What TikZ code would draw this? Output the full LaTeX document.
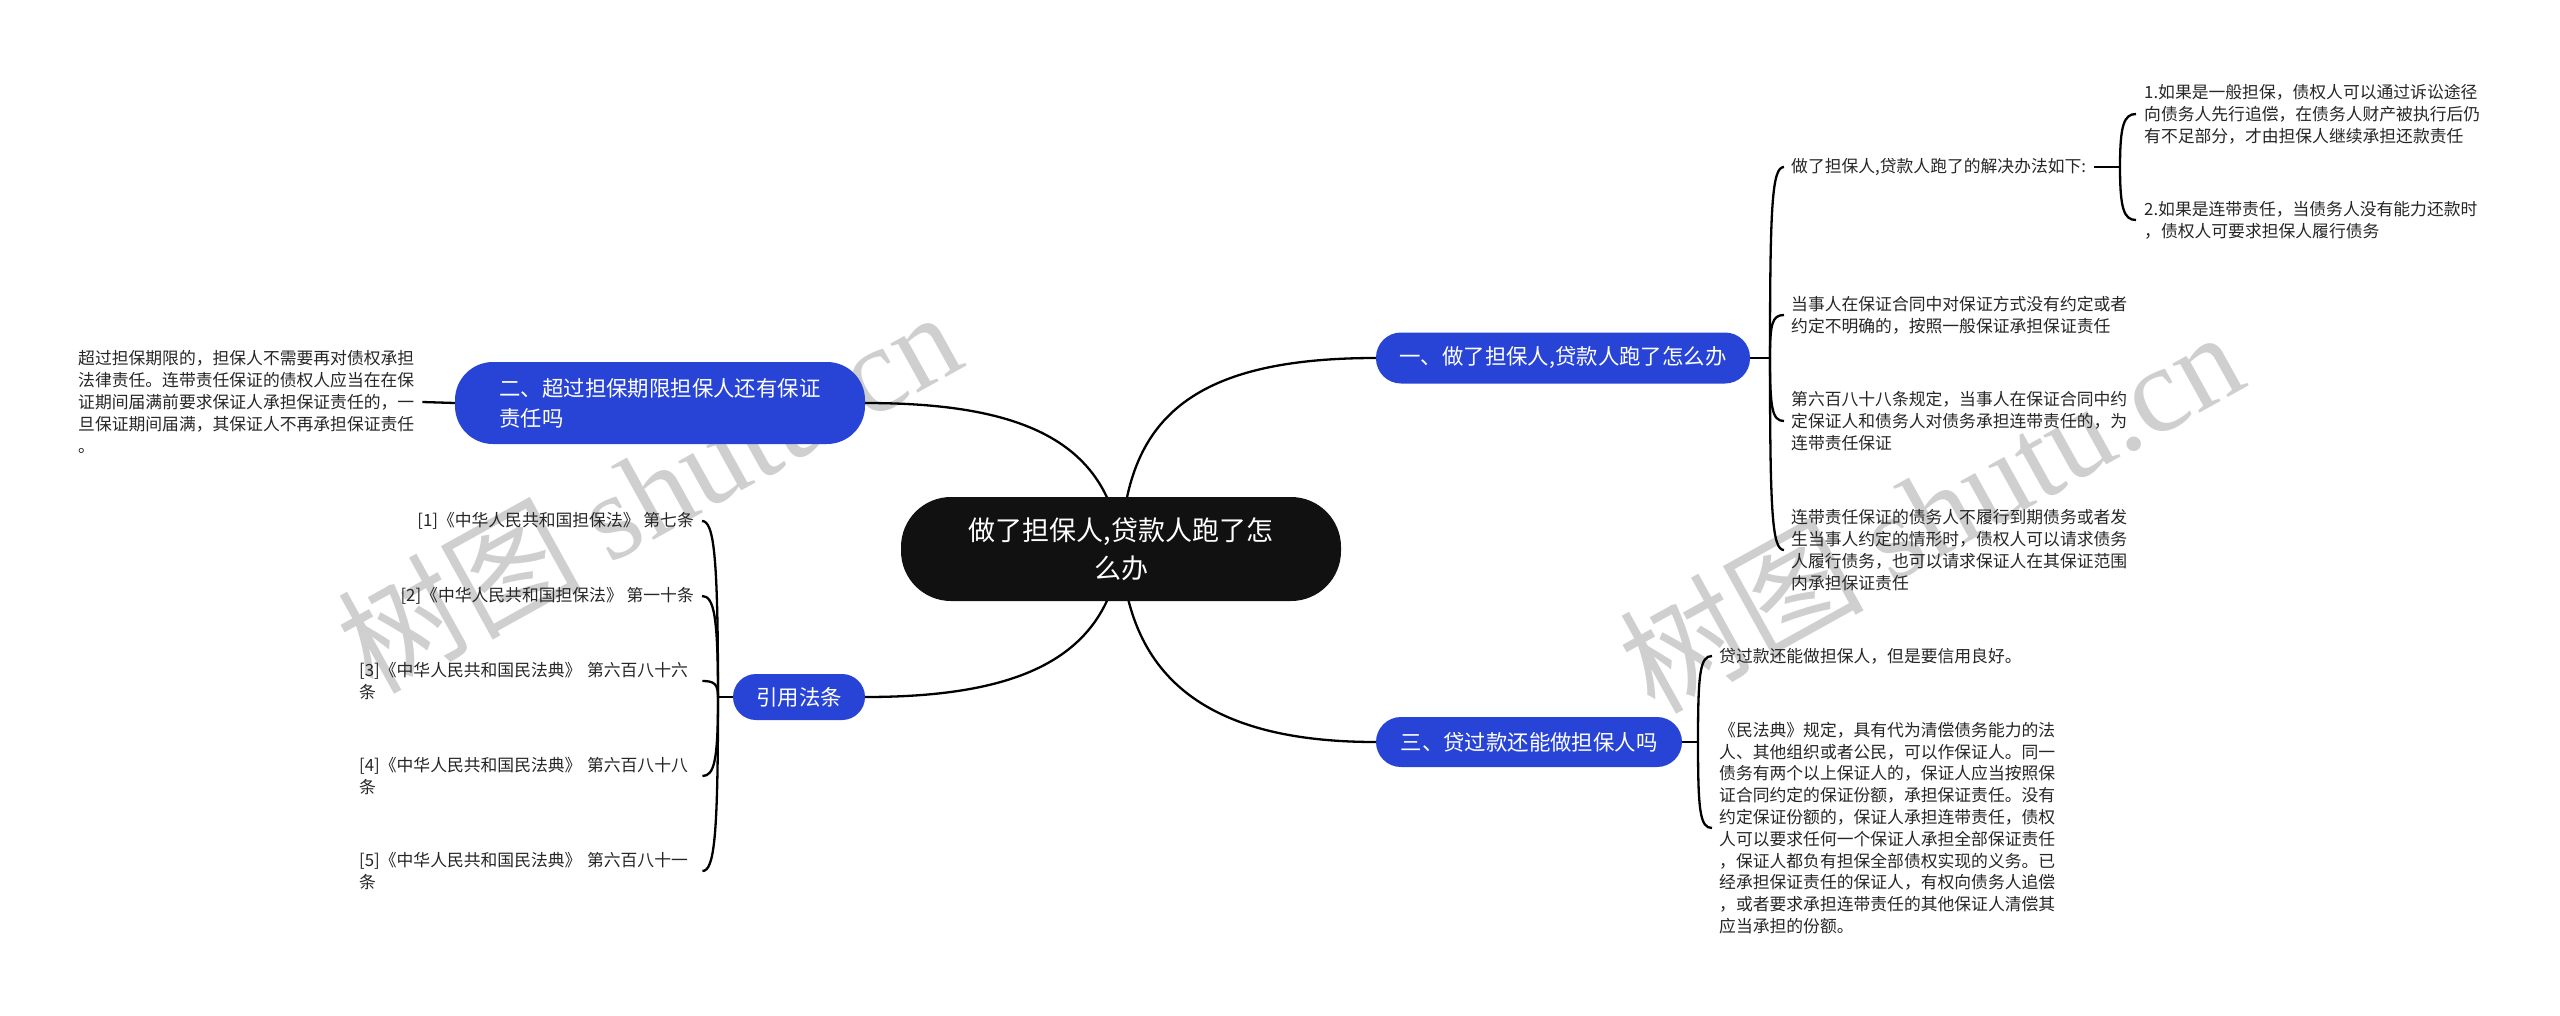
\documentclass[tikz,border=0pt]{standalone}
\usepackage{fontspec}
\setmainfont{Noto Sans CJK SC}
\newfontfamily\wmserif{Liberation Serif}
\definecolor{nodeblue}{RGB}{40,68,214}
\definecolor{rootblack}{RGB}{17,17,17}
\pgfdeclarelayer{wmlayer}
\pgfdeclarelayer{connlayer}
\pgfsetlayers{wmlayer,connlayer,main}
\begin{document}
\begin{tikzpicture}[x=1pt,y=-1pt,
  connline/.style={line width=2.3pt, black},
  rootbox/.style={fill=rootblack, text=white, rounded corners=50pt, minimum width=440pt, minimum height=104pt, inner sep=0pt, align=center, font=\fontsize{27}{38}\selectfont},
  branchbox/.style={fill=nodeblue, text=white, inner sep=0pt, font=\fontsize{21.4}{30}\selectfont},
  leafbox/.style={inner sep=0pt, align=left, text=black!85, font=\fontsize{16.8}{21.8}\selectfont},
  wmtext/.style={text=black!19, rotate=29, inner sep=0pt}
]
\useasboundingbox (0,0) rectangle (2560,1015);

% central and main branches
\node[rootbox] (c) at (1121,549) {做了担保人,贷款人跑了怎\\么办};
\node[branchbox, minimum width=374pt, minimum height=51pt, rounded corners=25pt] (b1) at (1563,358) {一、做了担保人,贷款人跑了怎么办};
\node[branchbox, minimum width=410pt, minimum height=82pt, rounded corners=38pt, align=left] (b2) at (660,403) {二、超过担保期限担保人还有保证\\责任吗};
\node[branchbox, minimum width=306pt, minimum height=50pt, rounded corners=25pt] (b3) at (1529,742) {三、贷过款还能做担保人吗};
\node[branchbox, minimum width=132pt, minimum height=46pt, rounded corners=23pt] (b4) at (799,697) {引用法条};

% branch 1 leaves
\node[leafbox, anchor=west] (a) at (1791,167) {做了担保人,贷款人跑了的解决办法如下:};
\node[leafbox, anchor=west] (lb) at (1791,315) {当事人在保证合同中对保证方式没有约定或者\\约定不明确的，按照一般保证承担保证责任};
\node[leafbox, anchor=west] (lc) at (1791,421) {第六百八十八条规定，当事人在保证合同中约\\定保证人和债务人对债务承担连带责任的，为\\连带责任保证};
\node[leafbox, anchor=west] (ld) at (1791,550) {连带责任保证的债务人不履行到期债务或者发\\生当事人约定的情形时，债权人可以请求债务\\人履行债务，也可以请求保证人在其保证范围\\内承担保证责任};
\node[leafbox, anchor=west] (a1) at (2144,114) {1.如果是一般担保，债权人可以通过诉讼途径\\向债务人先行追偿，在债务人财产被执行后仍\\有不足部分，才由担保人继续承担还款责任};
\node[leafbox, anchor=west] (a2) at (2144,220) {2.如果是连带责任，当债务人没有能力还款时\\，债权人可要求担保人履行债务};

% branch 3 leaves
\node[leafbox, anchor=west] (le) at (1719,656) {贷过款还能做担保人，但是要信用良好。};
\node[leafbox, anchor=west] (lf) at (1719,828) {《民法典》规定，具有代为清偿债务能力的法\\人、其他组织或者公民，可以作保证人。同一\\债务有两个以上保证人的，保证人应当按照保\\证合同约定的保证份额，承担保证责任。没有\\约定保证份额的，保证人承担连带责任，债权\\人可以要求任何一个保证人承担全部保证责任\\，保证人都负有担保全部债权实现的义务。已\\经承担保证责任的保证人，有权向债务人追偿\\，或者要求承担连带责任的其他保证人清偿其\\应当承担的份额。};

% branch 2 leaf
\node[leafbox, anchor=west] (l2) at (78,402) {超过担保期限的，担保人不需要再对债权承担\\法律责任。连带责任保证的债权人应当在在保\\证期间届满前要求保证人承担保证责任的，一\\旦保证期间届满，其保证人不再承担保证责任\\。};

% branch 4 leaves
\node[leafbox, anchor=east, align=right] (r1) at (694,521) {[1]《中华人民共和国担保法》 第七条};
\node[leafbox, anchor=east, align=right] (r2) at (694,596) {[2]《中华人民共和国担保法》 第一十条};
\node[leafbox, anchor=west, text width=335pt] (r3) at (359,681) {[3]《中华人民共和国民法典》 第六百八十六\\条};
\node[leafbox, anchor=west, text width=335pt] (r4) at (359,776) {[4]《中华人民共和国民法典》 第六百八十八\\条};
\node[leafbox, anchor=west, text width=335pt] (r5) at (359,871) {[5]《中华人民共和国民法典》 第六百八十一\\条};

% junctions
\coordinate (j1) at (1770,358);
\coordinate (ja) at (2120,167);
\coordinate (j3) at (1698,742);
\coordinate (j4) at (718,697);

\begin{pgfonlayer}{wmlayer}
\fill[white] (0,0) rectangle (2560,1015);
\node[wmtext] (w1) at (648,490) {\fontsize{122}{122}\selectfont 树图 {\wmserif shutu.cn}};
\node[wmtext] (w2) at (1930,510) {\fontsize{122}{122}\selectfont 树图 {\wmserif shutu.cn}};
\end{pgfonlayer}

\begin{pgfonlayer}{connlayer}
% central to branches
\draw[connline] (c.center) .. controls +(5,-129) and +(-186,0) .. (b1.west);
\draw[connline] (c.center) .. controls +(-13,-109) and +(155,0) .. (b2.east);
\draw[connline] (c.center) .. controls +(7,131) and +(-166,0) .. (b3.west);
\draw[connline] (c.center) .. controls +(-13,109) and +(155,0) .. (b4.east);

% branch 1
\draw[connline] (b1.east) -- (j1);
\draw[connline] (j1) .. controls +(0,-153) and +(-12,0) .. ([xshift=-7pt]a.west);
\draw[connline] (j1) .. controls +(0,-34) and +(-12,0) .. ([xshift=-7pt]lb.west);
\draw[connline] (j1) .. controls +(0,50) and +(-12,0) .. ([xshift=-7pt]lc.west);
\draw[connline] (j1) .. controls +(0,154) and +(-12,0) .. ([xshift=-7pt]ld.west);
\draw[connline] ([xshift=8pt]a.east) -- (ja);
\draw[connline] (ja) .. controls +(0,-42) and +(-12,0) .. ([xshift=-8pt]a1.west);
\draw[connline] (ja) .. controls +(0,42) and +(-12,0) .. ([xshift=-8pt]a2.west);

% branch 3
\draw[connline] (b3.east) -- (j3);
\draw[connline] (j3) .. controls +(0,-69) and +(-12,0) .. ([xshift=-7pt]le.west);
\draw[connline] (j3) .. controls +(0,69) and +(-12,0) .. ([xshift=-7pt]lf.west);

% branch 2
\draw[connline] ([xshift=8pt]l2.east) -- (b2.west);

% branch 4
\draw[connline] (b4.west) -- (j4);
\draw[connline] (j4) .. controls +(0,-141) and +(12,0) .. ([xshift=8pt]r1.east);
\draw[connline] (j4) .. controls +(0,-81) and +(12,0) .. ([xshift=8pt]r2.east);
\draw[connline] (j4) .. controls +(0,-13) and +(12,0) .. ([xshift=8pt]r3.east);
\draw[connline] (j4) .. controls +(0,63) and +(12,0) .. ([xshift=8pt]r4.east);
\draw[connline] (j4) .. controls +(0,139) and +(12,0) .. ([xshift=8pt]r5.east);
\end{pgfonlayer}
\end{tikzpicture}
\end{document}
